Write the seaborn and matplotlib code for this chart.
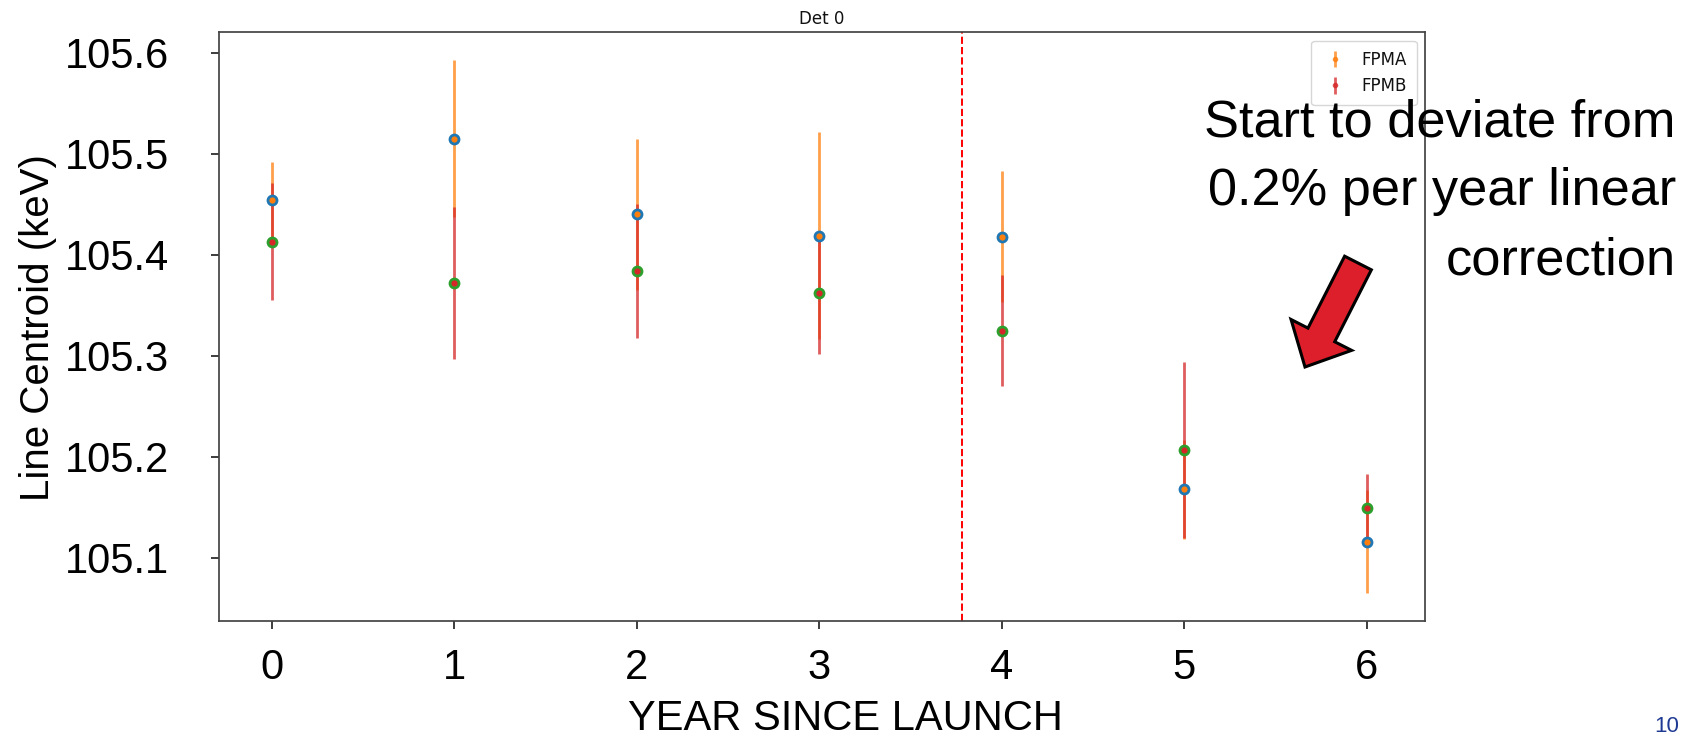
import numpy as np
import pandas as pd
import matplotlib
matplotlib.use('Agg')
import matplotlib.pyplot as plt
import matplotlib.patches as mpatches
import seaborn as sns

# values
years = [0, 1, 2, 3, 4, 5, 6]
fpma_centroid = [105.454, 105.515, 105.440, 105.419, 105.418, 105.168, 105.116]
fpma_err = [0.038, 0.078, 0.075, 0.102, 0.065, 0.049, 0.051]
fpmb_centroid = [105.413, 105.372, 105.384, 105.362, 105.325, 105.207, 105.149]
fpmb_err = [0.058, 0.075, 0.066, 0.060, 0.055, 0.087, 0.034]
y_ticks = [105.1, 105.2, 105.3, 105.4, 105.5, 105.6]
break_year = 3.78

sns.set_theme(style='ticks')
plt.rcParams['font.family'] = ['DejaVu Sans']
big_font = 'Liberation Sans'

df_a = pd.DataFrame({'year': years, 'centroid': fpma_centroid})
df_b = pd.DataFrame({'year': years, 'centroid': fpmb_centroid})

fig = plt.figure(figsize=(16.89, 7.37), dpi=100)
ax = fig.add_axes([0.1297, 0.158, 0.7140, 0.798])

# error bars
ax.errorbar(years, fpma_centroid, yerr=fpma_err, fmt='.', ms=6, color='tab:orange',
            elinewidth=2.0, alpha=0.75, label='FPMA', zorder=2)
ax.errorbar(years, fpmb_centroid, yerr=fpmb_err, fmt='.', ms=6, color='tab:red',
            elinewidth=2.0, alpha=0.75, label='FPMB', zorder=2)

# points
sns.scatterplot(data=df_a, x='year', y='centroid', color='tab:orange', edgecolor='tab:blue',
                linewidth=2.0, s=42, legend=False, ax=ax, zorder=3)
sns.scatterplot(data=df_b, x='year', y='centroid', color='tab:red', edgecolor='tab:green',
                linewidth=2.0, s=42, legend=False, ax=ax, zorder=3)

ax.axvline(break_year, color='red', linestyle='--', linewidth=1.4)

ax.set_xlim(-0.29, 6.32)
ax.set_ylim(105.038, 105.620)
ax.set_xticks(years)
ax.set_yticks(y_ticks)
ax.set_xticklabels([str(y) for y in years], fontsize=30, fontfamily=big_font)
ax.set_yticklabels([f'{v:.1f}' for v in y_ticks], fontsize=30, fontfamily=big_font)
ax.tick_params(axis='x', pad=14, labelcolor='black')
ax.tick_params(axis='y', pad=30, labelcolor='black')
ax.set_xlabel('')
ax.set_ylabel('')
ax.set_title('Det 0', fontsize=12, color='#111111')
for s in ax.spines.values():
    s.set_color('#444444')

leg = ax.legend(loc='upper right', fontsize=12, handlelength=1.6, borderpad=0.6)
for t in leg.get_texts():
    t.set_color('#111111')

# slide overlay text
fig.text(0.0225, 0.556, 'Line Centroid (keV)', rotation=90, ha='center', va='center',
         fontsize=29, fontfamily=big_font, color='black')
fig.text(0.5005, 0.025, 'YEAR SINCE LAUNCH', ha='center', va='center',
         fontsize=30, fontfamily=big_font, color='black')
fig.text(0.9923, 0.7396, 'Start to deviate from\n0.2% per year linear\ncorrection',
         ha='right', va='center', fontsize=37.7, fontfamily=big_font, linespacing=1.535,
         color='black')
fig.text(0.987, 0.014, '10', ha='center', va='center', fontsize=16,
         color='#1f3a93', fontfamily=big_font)

arrow = mpatches.FancyArrow(13.58, 4.74, -0.53, -1.04, width=0.30, head_width=0.68,
                            head_length=0.36, length_includes_head=True,
                            facecolor='#dc1f2a', edgecolor='black', linewidth=2.2,
                            transform=fig.dpi_scale_trans)
fig.patches.append(arrow)

fig.savefig('out.png', dpi=100)
